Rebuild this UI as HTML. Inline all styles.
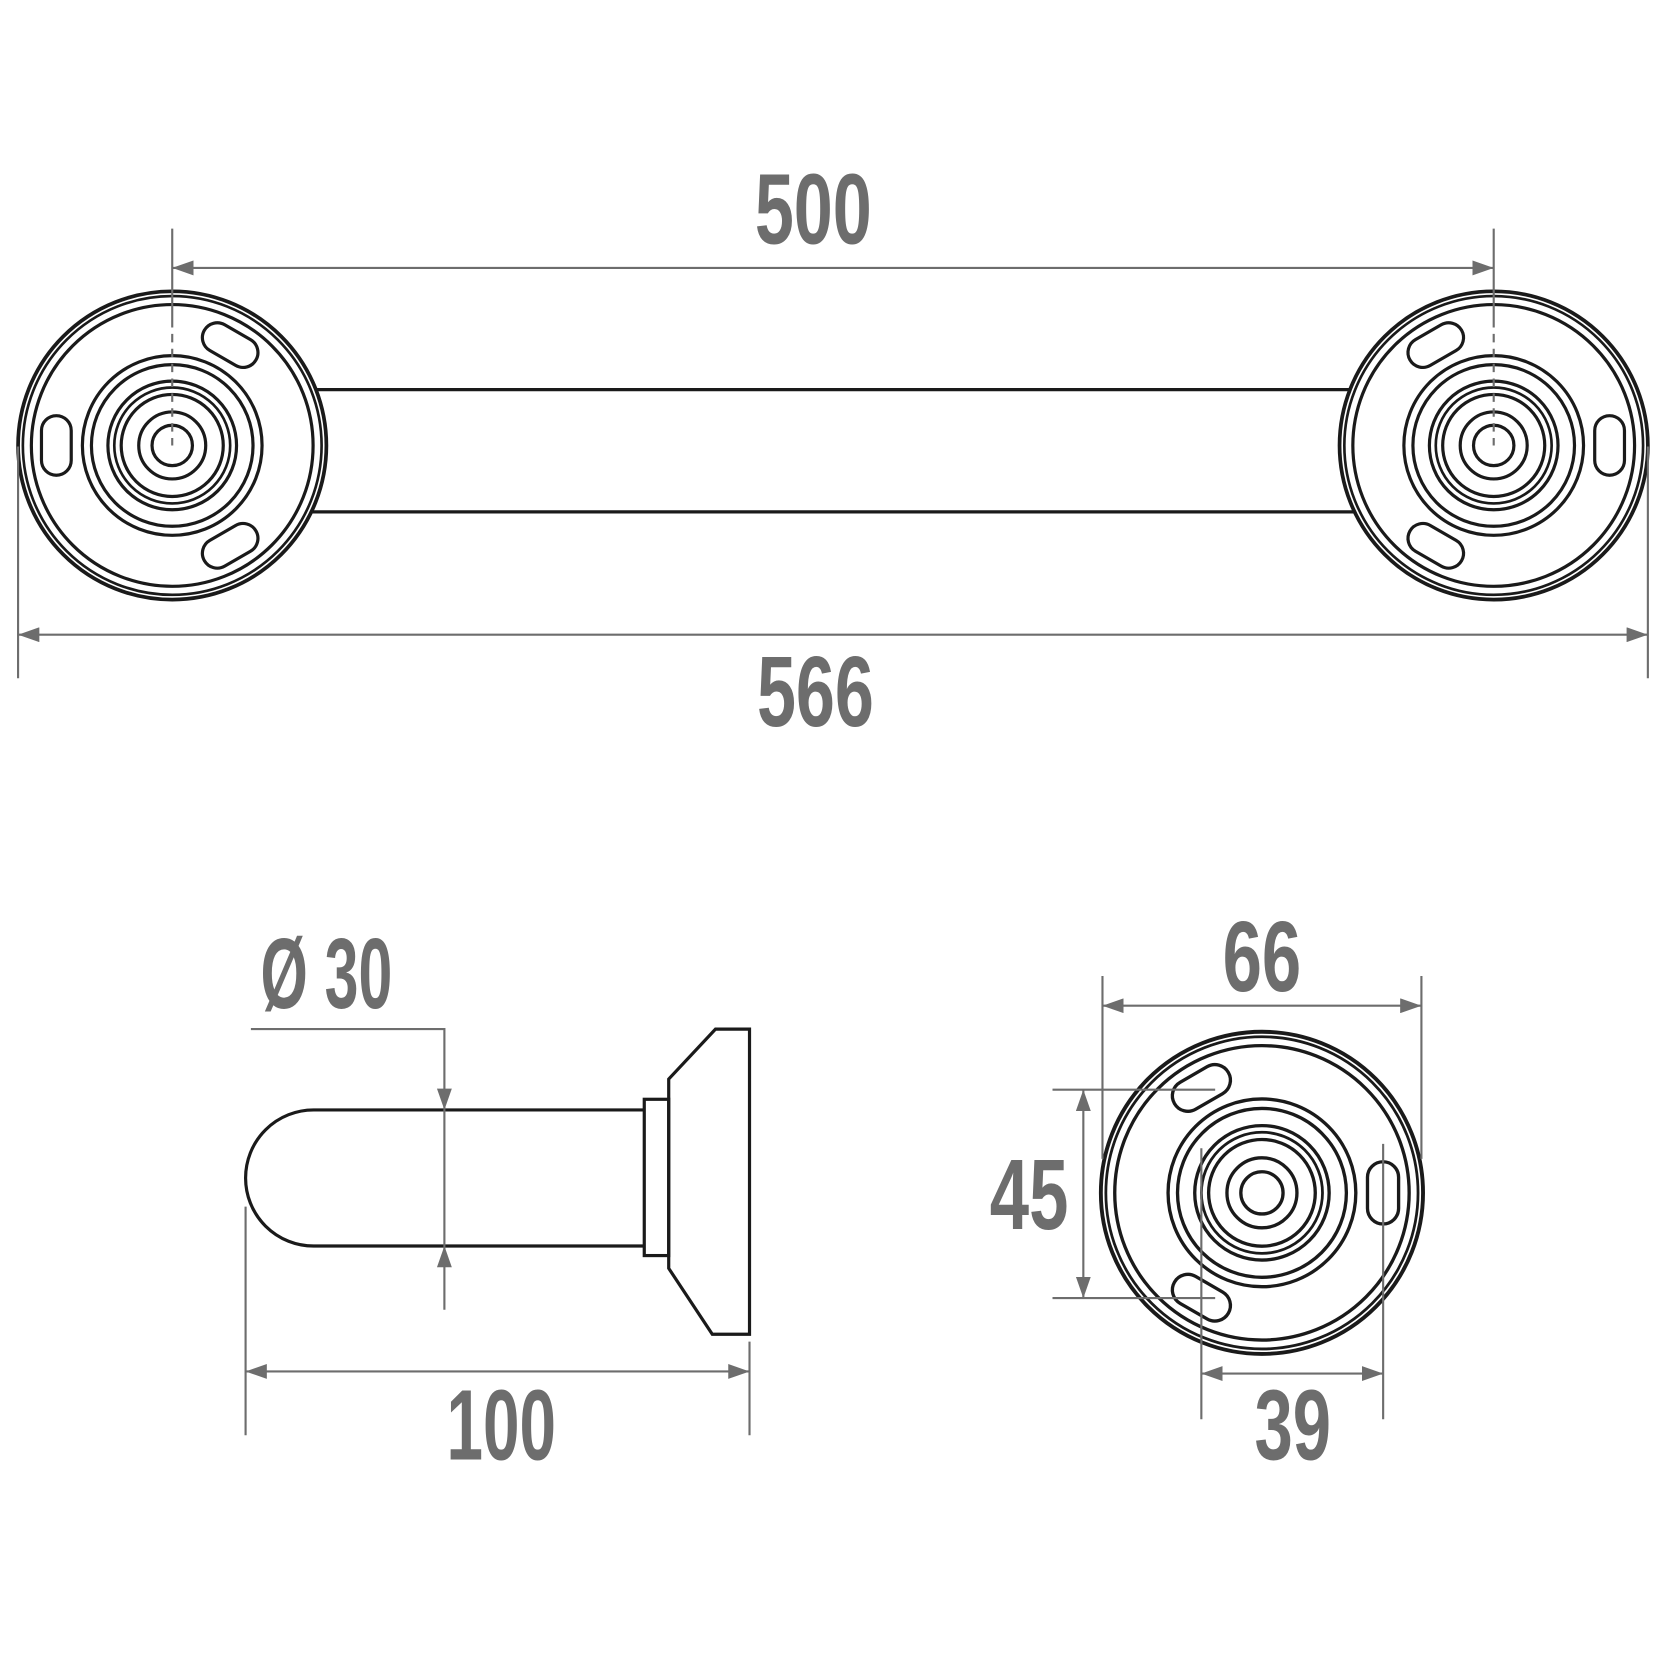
<!DOCTYPE html>
<html><head><style>html,body{margin:0;padding:0;background:#fff}svg{display:block}</style></head>
<body>
<svg width="1667" height="1667" viewBox="0 0 1568 1568" xmlns="http://www.w3.org/2000/svg">
<defs>
<g id="slot"><rect x="-14" y="-28" width="28" height="56" rx="14" ry="14" fill="none" stroke="#1a1a1a" stroke-width="3"/></g>
<g id="ros">
 <circle r="145" fill="#fff" stroke="#1a1a1a" stroke-width="3.5"/>
 <circle r="140.5" fill="none" stroke="#1a1a1a" stroke-width="2.5"/>
 <circle r="132.5" fill="none" stroke="#1a1a1a" stroke-width="3"/>
 <circle r="84.5" fill="none" stroke="#1a1a1a" stroke-width="3"/>
 <circle r="76" fill="none" stroke="#1a1a1a" stroke-width="3"/>
 <circle r="60.5" fill="none" stroke="#1a1a1a" stroke-width="3"/>
 <circle r="54.5" fill="none" stroke="#1a1a1a" stroke-width="2.5"/>
 <circle r="48" fill="none" stroke="#1a1a1a" stroke-width="3"/>
 <circle r="31.5" fill="none" stroke="#1a1a1a" stroke-width="3"/>
 <circle r="19" fill="none" stroke="#1a1a1a" stroke-width="3"/>
 <use href="#slot" transform="translate(109,0)"/>
 <use href="#slot" transform="rotate(-120) translate(109,0)"/>
 <use href="#slot" transform="rotate(120) translate(109,0)"/>
</g>
<marker id="ar" viewBox="0 0 20 14" refX="20" refY="7" markerWidth="20" markerHeight="14" markerUnits="userSpaceOnUse" orient="auto-start-reverse"><path d="M0,0 L20,7 L0,14 z" fill="#6d6d6d"/></marker>
</defs>
<g font-family="'Liberation Sans',sans-serif" font-weight="bold" fill="#6d6d6d" font-size="94">
<text x="710" y="229" textLength="110" lengthAdjust="spacingAndGlyphs">500</text>
<text x="712" y="683" textLength="110" lengthAdjust="spacingAndGlyphs">566</text>
<text x="245" y="948" textLength="124" lengthAdjust="spacingAndGlyphs">Ø 30</text>
<text x="420" y="1373" textLength="103" lengthAdjust="spacingAndGlyphs">100</text>
<text x="1150" y="932" textLength="74" lengthAdjust="spacingAndGlyphs">66</text>
<text x="931" y="1156" textLength="74" lengthAdjust="spacingAndGlyphs">45</text>
<text x="1180" y="1373" textLength="72" lengthAdjust="spacingAndGlyphs">39</text>
</g>
<!-- top bar -->
<line x1="290" y1="366.5" x2="1275" y2="366.5" stroke="#1a1a1a" stroke-width="3"/>
<line x1="290" y1="481.5" x2="1275" y2="481.5" stroke="#1a1a1a" stroke-width="3"/>
<use href="#ros" transform="translate(162,419) scale(-1,1)"/>
<use href="#ros" transform="translate(1405,419)"/>
<g stroke="#6d6d6d" stroke-width="2" fill="none">
<line x1="162" y1="215" x2="162" y2="300"/><line x1="1405" y1="215" x2="1405" y2="300"/>
<line x1="162" y1="300" x2="162" y2="419" stroke-dasharray="8,6"/><line x1="1405" y1="300" x2="1405" y2="419" stroke-dasharray="8,6"/>
<line x1="162" y1="252" x2="1405" y2="252" marker-start="url(#ar)" marker-end="url(#ar)"/>
<line x1="17" y1="420" x2="17" y2="638"/><line x1="1550" y1="420" x2="1550" y2="638"/>
<line x1="17" y1="597" x2="1550" y2="597" marker-start="url(#ar)" marker-end="url(#ar)"/>
</g>
<!-- side view -->
<g stroke="#1a1a1a" stroke-width="3" fill="none">
<path d="M606,1044 L295,1044 A64,64 0 0 0 295,1172 L606,1172"/>
<rect x="606" y="1034" width="23" height="147"/>
<path d="M629,1015 L673,968 L705,968 L705,1255 L670,1255 L629,1193 Z"/>
</g>
<g stroke="#6d6d6d" stroke-width="2" fill="none">
<polyline points="236,968 418,968 418,1044" marker-end="url(#ar)"/>
<line x1="418" y1="1044" x2="418" y2="1172"/>
<line x1="418" y1="1232" x2="418" y2="1172" marker-end="url(#ar)"/>
<line x1="231" y1="1135" x2="231" y2="1350"/><line x1="705" y1="1262" x2="705" y2="1350"/>
<line x1="231" y1="1290" x2="705" y2="1290" marker-start="url(#ar)" marker-end="url(#ar)"/>
</g>
<!-- front view -->
<use href="#ros" transform="translate(1187,1122) scale(1.045,1.045)"/>
<g stroke="#6d6d6d" stroke-width="2" fill="none">
<line x1="1037" y1="918" x2="1037" y2="1090"/><line x1="1337" y1="918" x2="1337" y2="1090"/>
<line x1="1037" y1="946" x2="1337" y2="946" marker-start="url(#ar)" marker-end="url(#ar)"/>
<line x1="990" y1="1025" x2="1143" y2="1025"/><line x1="990" y1="1221" x2="1143" y2="1221"/>
<line x1="1019" y1="1025" x2="1019" y2="1221" marker-start="url(#ar)" marker-end="url(#ar)"/>
<line x1="1130" y1="1080" x2="1130" y2="1335"/><line x1="1301" y1="1076" x2="1301" y2="1335"/>
<line x1="1130" y1="1292" x2="1301" y2="1292" marker-start="url(#ar)" marker-end="url(#ar)"/>
</g>
</svg>
</body></html>
